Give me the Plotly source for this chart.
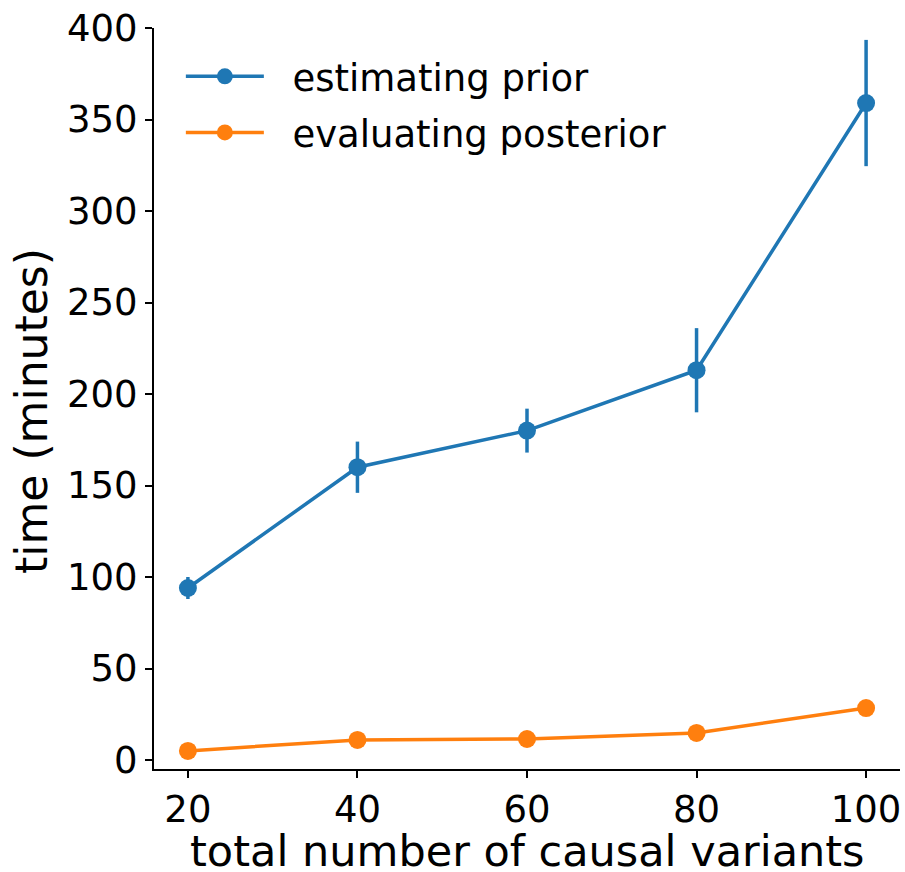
import plotly.graph_objects as go

variants = [20, 40, 60, 80, 100]
prior_time = [94, 160, 180, 213, 359]
prior_err = [6, 14, 12, 23, 34.5]
posterior_time = [5, 11, 11.5, 14.8, 28.4]
posterior_err = [0.5, 1, 1, 1.5, 2]

BLUE = "#1f77b4"
ORANGE = "#ff7f0e"
FONT = "DejaVu Sans"
PAD = "\u00a0\u00a0"

fig = go.Figure()
fig.add_trace(go.Scatter(
    x=variants, y=prior_time, name=PAD + "estimating prior", mode="lines+markers",
    legendgroup="a",
    line=dict(color=BLUE, width=3.5), marker=dict(color=BLUE, size=18),
    error_y=dict(type="data", array=prior_err, color=BLUE, thickness=3.5, width=0),
))
fig.add_trace(go.Scatter(
    x=variants, y=posterior_time, name=PAD + "evaluating posterior", mode="lines+markers",
    legendgroup="b",
    line=dict(color=ORANGE, width=3.5), marker=dict(color=ORANGE, size=18),
    error_y=dict(type="data", array=posterior_err, color=ORANGE, thickness=3.5, width=0),
))

axis_common = dict(
    showline=True, linecolor="black", linewidth=2, mirror=False,
    ticks="outside", ticklen=7, tickwidth=2, tickcolor="black",
    showgrid=False, zeroline=False,
    tickfont=dict(family=FONT, size=37, color="black"),
)
fig.update_xaxes(range=[16, 104], tickvals=[20, 40, 60, 80, 100], **axis_common)
fig.update_yaxes(range=[-4.9, 400], tickvals=[0, 50, 100, 150, 200, 250, 300, 350, 400],
                 **axis_common)

fig.add_annotation(text="total number of causal variants", xref="paper", yref="paper",
                   x=0.5, y=-0.110, xanchor="center", yanchor="middle", showarrow=False,
                   font=dict(family=FONT, size=43, color="black"))
fig.add_annotation(text="time (minutes)", xref="paper", yref="paper", textangle=-90,
                   x=-0.165, y=0.483, xanchor="center", yanchor="middle", showarrow=False,
                   font=dict(family=FONT, size=44, color="black"))

fig.update_layout(
    width=905, height=872,
    margin=dict(l=154, r=5, t=28, b=103, autoexpand=False),
    plot_bgcolor="white", paper_bgcolor="white",
    font=dict(family=FONT, color="black"),
    legend=dict(x=0.036, y=0.976, xanchor="left", yanchor="top",
                itemwidth=78, tracegroupgap=5,
                font=dict(family=FONT, size=37, color="black"),
                bgcolor="rgba(255,255,255,0)"),
)
fig.write_html("out.html")
